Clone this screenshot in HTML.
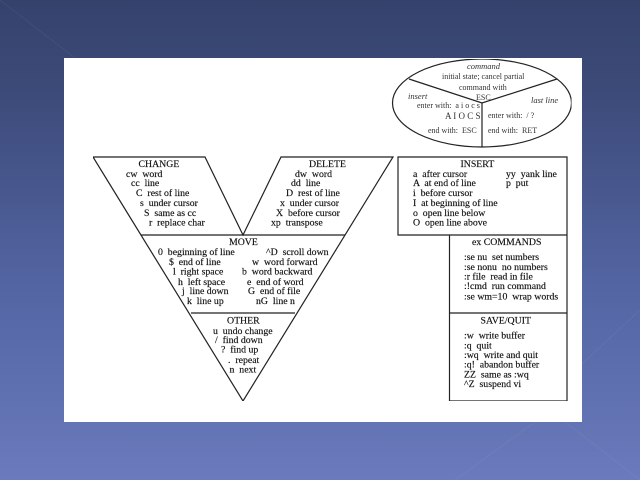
<!DOCTYPE html>
<html>
<head>
<meta charset="utf-8">
<style>
html,body{margin:0;padding:0;width:640px;height:480px;overflow:hidden;background:#4f5f98}
svg{display:block}
text{font-family:"Liberation Serif",serif;font-size:9.8px;fill:#111;stroke:#111;stroke-width:0.15px;white-space:pre}
.i{font-style:italic;fill:#333;stroke:none;font-size:8.500px}
.s{font-size:8px;fill:#333;stroke:none}
</style>
</head>
<body>
<svg width="640" height="480" viewBox="0 0 640 480" xmlns="http://www.w3.org/2000/svg" xml:space="preserve">
<defs>
<linearGradient id="bg" x1="0" y1="0" x2="0" y2="1">
<stop offset="0" stop-color="#35426c"/>
<stop offset="0.2" stop-color="#3d4b7a"/>
<stop offset="0.6" stop-color="#5365a3"/>
<stop offset="1" stop-color="#6a7abc"/>
</linearGradient>
<filter id="b" x="0" y="0" width="1" height="1"><feGaussianBlur stdDeviation="0.3"/></filter>
</defs>
<rect width="640" height="480" fill="url(#bg)"/>
<g stroke="#fff" stroke-opacity="0.05" fill="none">
<path d="M0 0L75 58M582 364L640 310M455 480L535 422M565 422L640 480"/>
</g>
<rect x="64" y="58" width="518" height="364" fill="#fff"/>
<g filter="url(#b)">
<g fill="none" stroke="#222" stroke-width="1.2">
<ellipse cx="482" cy="103" rx="89.500" ry="44"/>
<path d="M409 79L482 103L557 79M482 103V147"/>
<path d="M93 157H205L243 235L281 157H393L243 401Z"/>
<path d="M141 235H345M191 313H295"/>
<path d="M398 157H567V235H398ZM449.500 235V401H567V235M449.500 313H567"/>
</g>
<text class="i" x="467" y="69">command</text>
<text class="s" x="442" y="79">initial state; cancel partial</text>
<text class="s" x="459" y="90">command with</text>
<text class="s" x="476" y="100">ESC</text>
<text class="i" x="408" y="99">insert</text>
<text class="i" x="531" y="103">last line</text>
<text class="s" x="417" y="108">enter with:  a i o c s</text>
<text class="s" x="445" y="119" style="font-size:9px">A I O C S</text>
<text class="s" x="488" y="118">enter with:  / ?</text>
<text class="s" x="428" y="133">end with:  ESC</text>
<text class="s" x="488" y="133">end with:  RET</text>

<text x="138.500" y="167">CHANGE</text>
<text x="126" y="177">cw  word</text>
<text x="131" y="186">cc  line</text>
<text x="136" y="196">C  rest of line</text>
<text x="140" y="206">s  under cursor</text>
<text x="144" y="216">S  same as cc</text>
<text x="149" y="225.500">r  replace char</text>

<text x="309" y="167">DELETE</text>
<text x="295" y="177">dw  word</text>
<text x="291" y="186">dd  line</text>
<text x="286" y="196">D  rest of line</text>
<text x="280" y="206">x  under cursor</text>
<text x="276" y="216">X  before cursor</text>
<text x="271" y="225.500">xp  transpose</text>

<text x="229" y="245">MOVE</text>
<text x="158" y="255">0  beginning of line</text>
<text x="169" y="265">$  end of line</text>
<text x="173" y="274.500">l  right space</text>
<text x="178" y="285">h  left space</text>
<text x="182" y="294">j  line down</text>
<text x="187" y="304">k  line up</text>
<text x="266" y="255">^D  scroll down</text>
<text x="252" y="265">w  word forward</text>
<text x="242" y="274.500">b  word backward</text>
<text x="247" y="285">e  end of word</text>
<text x="248" y="294">G  end of file</text>
<text x="256" y="304">nG  line n</text>

<text x="227" y="323.500">OTHER</text>
<text x="213" y="334">u  undo change</text>
<text x="215" y="343">/  find down</text>
<text x="221" y="352.500">?  find up</text>
<text x="228" y="363">.  repeat</text>
<text x="229.500" y="372.500">n  next</text>

<text x="460.500" y="167">INSERT</text>
<text x="413" y="177">a  after cursor</text>
<text x="413" y="186">A  at end of line</text>
<text x="413" y="196">i  before cursor</text>
<text x="413" y="206">I  at beginning of line</text>
<text x="413" y="216">o  open line below</text>
<text x="413" y="225.500">O  open line above</text>
<text x="506" y="177">yy  yank line</text>
<text x="506" y="186">p  put</text>

<text x="472" y="245">ex COMMANDS</text>
<text x="464" y="260">:se nu  set numbers</text>
<text x="464" y="270">:se nonu  no numbers</text>
<text x="464" y="279.500">:r file  read in file</text>
<text x="464" y="289">:!cmd  run command</text>
<text x="464" y="299.500">:se wm=10  wrap words</text>

<text x="480.500" y="323.500">SAVE/QUIT</text>
<text x="464" y="338.500">:w  write buffer</text>
<text x="464" y="348.500">:q  quit</text>
<text x="464" y="358">:wq  write and quit</text>
<text x="464" y="367.500">:q!  abandon buffer</text>
<text x="464" y="377.500">ZZ  same as :wq</text>
<text x="464" y="387">^Z  suspend vi</text>
</g>
</svg>
</body>
</html>
